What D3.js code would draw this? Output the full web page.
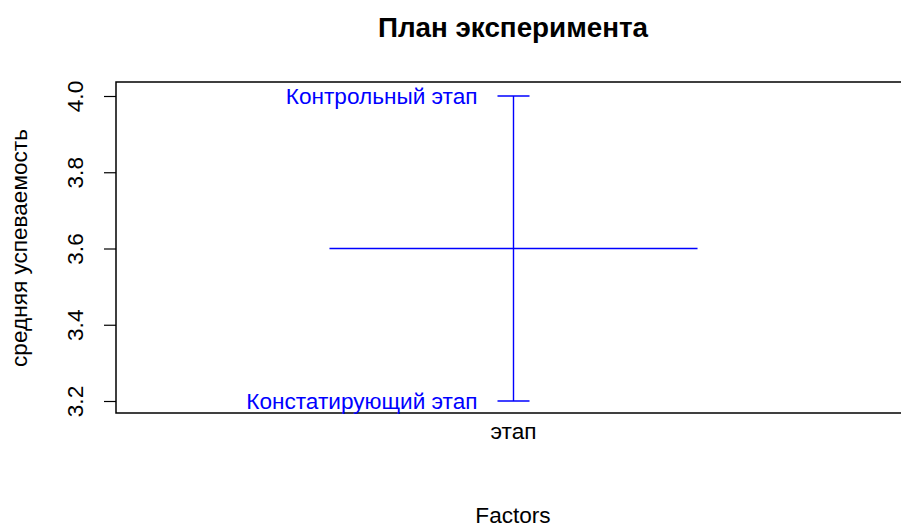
<!DOCTYPE html>
<html>
<head>
<meta charset="utf-8">
<script src="https://cdn.jsdelivr.net/npm/d3@7"></script>
<style>
  body { margin: 0; background: #fff; }
  text { font-family: "Liberation Sans", Arial, sans-serif; }
</style>
</head>
<body>
<script>
var width = 901, height = 527;

// data
var factors = ["этап"];
var levels = ["Констатирующий этап", "Контрольный этап"];
var levelMeans = [3.2, 4.0];
var grandMean = 3.6;
var yTicks = [3.2, 3.4, 3.6, 3.8, 4.0];

var box = {left: 116, right: 911, top: 82, bottom: 413};
var fontSize = "22.6px";

var svg = d3.select("body").append("svg")
    .attr("width", width)
    .attr("height", height);

var x = d3.scaleLinear()
    .domain([0.46, factors.length + 0.54])
    .range([box.left, box.right]);

var y = d3.scaleLinear()
    .domain([3.2, 4.0])
    .range([401, 96]);

// plot box
svg.append("rect")
    .attr("x", box.left)
    .attr("y", box.top)
    .attr("width", box.right - box.left)
    .attr("height", box.bottom - box.top)
    .attr("fill", "none")
    .attr("stroke", "black")
    .attr("stroke-width", 1.5);

// y axis
var yAxis = svg.append("g")
    .attr("transform", "translate(" + box.left + ",0)")
    .call(d3.axisLeft(y).tickValues(yTicks).tickSize(12));
yAxis.select(".domain").remove();
yAxis.selectAll("line").attr("stroke", "black").attr("stroke-width", 1.2);
yAxis.selectAll("text").remove();
yAxis.selectAll(".tick").append("text")
    .attr("transform", "translate(-33,0) rotate(-90)")
    .attr("text-anchor", "middle")
    .attr("fill", "black")
    .style("font-size", fontSize)
    .text(function(d) { return d3.format(".1f")(d); });

// factor columns
factors.forEach(function(f, i) {
    var cx = x(i + 1);
    var ext = d3.extent(levelMeans);

    svg.append("line")
        .attr("x1", cx).attr("x2", cx)
        .attr("y1", y(ext[0])).attr("y2", y(ext[1]))
        .attr("stroke", "blue").attr("stroke-width", 1.4);

    svg.selectAll(".cap" + i)
        .data(levelMeans)
      .enter().append("line")
        .attr("x1", cx - 16).attr("x2", cx + 16)
        .attr("y1", function(d) { return y(d); })
        .attr("y2", function(d) { return y(d); })
        .attr("stroke", "blue").attr("stroke-width", 1.4);

    svg.selectAll(".lab" + i)
        .data(levelMeans)
      .enter().append("text")
        .attr("x", cx - 36)
        .attr("y", function(d) { return y(d); })
        .attr("dy", "0.35em")
        .attr("text-anchor", "end")
        .attr("fill", "blue")
        .style("font-size", fontSize)
        .text(function(d, j) { return levels[j]; });

    svg.append("text")
        .attr("x", cx)
        .attr("y", 439)
        .attr("text-anchor", "middle")
        .style("font-size", fontSize)
        .text(f);
});

// grand mean
svg.append("line")
    .attr("x1", x(0.75)).attr("x2", x(factors.length + 0.25))
    .attr("y1", y(grandMean)).attr("y2", y(grandMean))
    .attr("stroke", "blue").attr("stroke-width", 1.4);

// titles
svg.append("text")
    .attr("x", 513).attr("y", 37)
    .attr("text-anchor", "middle")
    .style("font-size", "27.8px")
    .style("font-weight", "bold")
    .text("План эксперимента");

svg.append("text")
    .attr("x", 513).attr("y", 523)
    .attr("text-anchor", "middle")
    .style("font-size", fontSize)
    .text("Factors");

svg.append("text")
    .attr("transform", "translate(27,248) rotate(-90)")
    .attr("text-anchor", "middle")
    .style("font-size", fontSize)
    .text("средняя успеваемость");
</script>
</body>
</html>
